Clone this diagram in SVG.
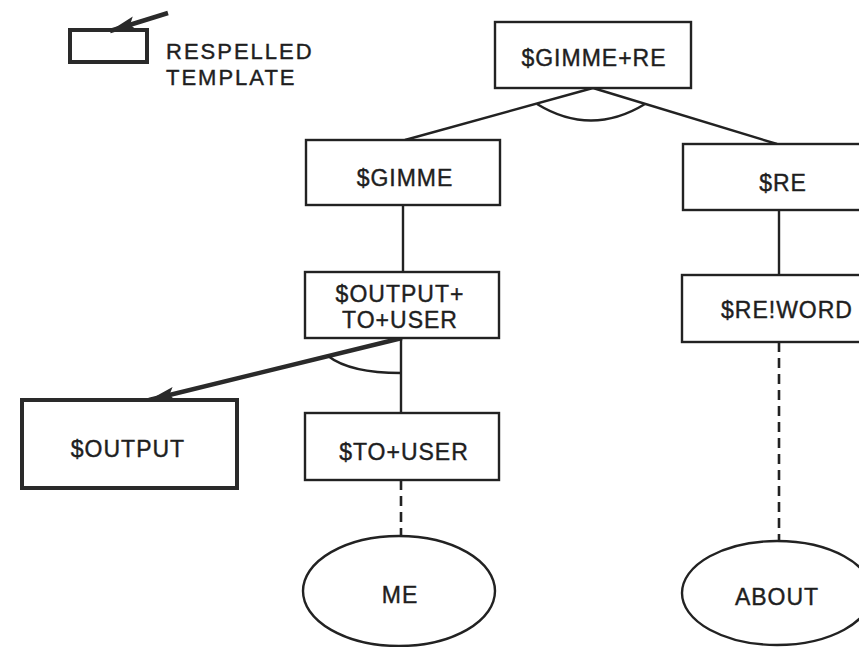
<svg xmlns="http://www.w3.org/2000/svg" width="859" height="647" viewBox="0 0 859 647">
  <style>
    .box { fill: #fff; stroke: #222; stroke-width: 2.4; }
    .heavy { fill: #fff; stroke: #2a2a2a; stroke-width: 4; }
    .lbl { font-family: "Liberation Sans", Arial, sans-serif; font-size: 23px; fill: #1e1e1e; stroke: #1e1e1e; stroke-width: 0.4; text-anchor: middle; letter-spacing: 1px; }
    .key { font-family: "Liberation Sans", Arial, sans-serif; font-size: 22px; fill: #1e1e1e; stroke: #1e1e1e; stroke-width: 0.4; letter-spacing: 2px; }
    .edge { fill: none; stroke: #222; stroke-width: 2.4; }
    .dash { fill: none; stroke: #222; stroke-width: 2.6; stroke-dasharray: 10 6; }
    .thick { fill: none; stroke: #2a2a2a; stroke-width: 4.5; }
  </style>
  <defs>
    <marker id="head" markerUnits="userSpaceOnUse" markerWidth="30" markerHeight="16" refX="26" refY="7" orient="auto">
      <path d="M0,0 L26,7 L0,14 L5,7 Z" fill="#2a2a2a"/>
    </marker>
  </defs>
  <rect width="859" height="647" fill="#fff"/>

  <!-- key: heavy box = respelled template -->
  <g id="legend">
    <rect class="heavy" x="70" y="30" width="77" height="32"/>
    <line class="thick" x1="168" y1="13" x2="110" y2="31" marker-end="url(#head)"/>
    <text class="key" x="166" y="59">RESPELLED</text>
    <text class="key" x="166" y="85">TEMPLATE</text>
  </g>

  <!-- connectors -->
  <g id="connectors">
    <line class="edge" x1="593" y1="88" x2="405" y2="140"/>
    <line class="edge" x1="593" y1="88" x2="777" y2="144"/>
    <path class="edge" d="M537,104 Q591,137 645,104"/>
    <line class="edge" x1="403" y1="205" x2="403" y2="272"/>
    <line class="edge" x1="779" y1="210" x2="779" y2="275"/>
    <line class="thick" x1="402" y1="338" x2="149" y2="400" marker-end="url(#head)"/>
    <line class="edge" x1="401" y1="338" x2="401" y2="413"/>
    <path class="edge" d="M328,356 Q350,373 401,373"/>
    <line class="dash" x1="401" y1="480" x2="401" y2="536"/>
    <line class="dash" x1="779" y1="342" x2="779" y2="541"/>
  </g>

  <g id="gimme-re">
    <rect class="box" x="495" y="22" width="196" height="66"/>
    <text class="lbl" x="594" y="66">$GIMME+RE</text>
  </g>
  <g id="gimme">
    <rect class="box" x="306" y="140" width="194" height="65"/>
    <text class="lbl" x="405" y="186">$GIMME</text>
  </g>
  <g id="re">
    <rect class="box" x="683" y="144" width="194" height="66"/>
    <text class="lbl" x="783" y="191">$RE</text>
  </g>
  <g id="output-to-user">
    <rect class="box" x="305" y="272" width="194" height="66"/>
    <text class="lbl" x="400" y="302">$OUTPUT+</text>
    <text class="lbl" x="400" y="328">TO+USER</text>
  </g>
  <g id="re-word">
    <rect class="box" x="682" y="275" width="198" height="67"/>
    <text class="lbl" x="787" y="318">$RE!WORD</text>
  </g>
  <g id="output">
    <rect class="heavy" x="22" y="400" width="215" height="88"/>
    <text class="lbl" x="128" y="457">$OUTPUT</text>
  </g>
  <g id="to-user">
    <rect class="box" x="305" y="413" width="194" height="67"/>
    <text class="lbl" x="404" y="460">$TO+USER</text>
  </g>
  <g id="me">
    <ellipse class="box" cx="399" cy="591" rx="96" ry="55"/>
    <text class="lbl" x="400" y="603">ME</text>
  </g>
  <g id="about">
    <ellipse class="box" cx="777" cy="593" rx="95" ry="52"/>
    <text class="lbl" x="777" y="605">ABOUT</text>
  </g>
</svg>
